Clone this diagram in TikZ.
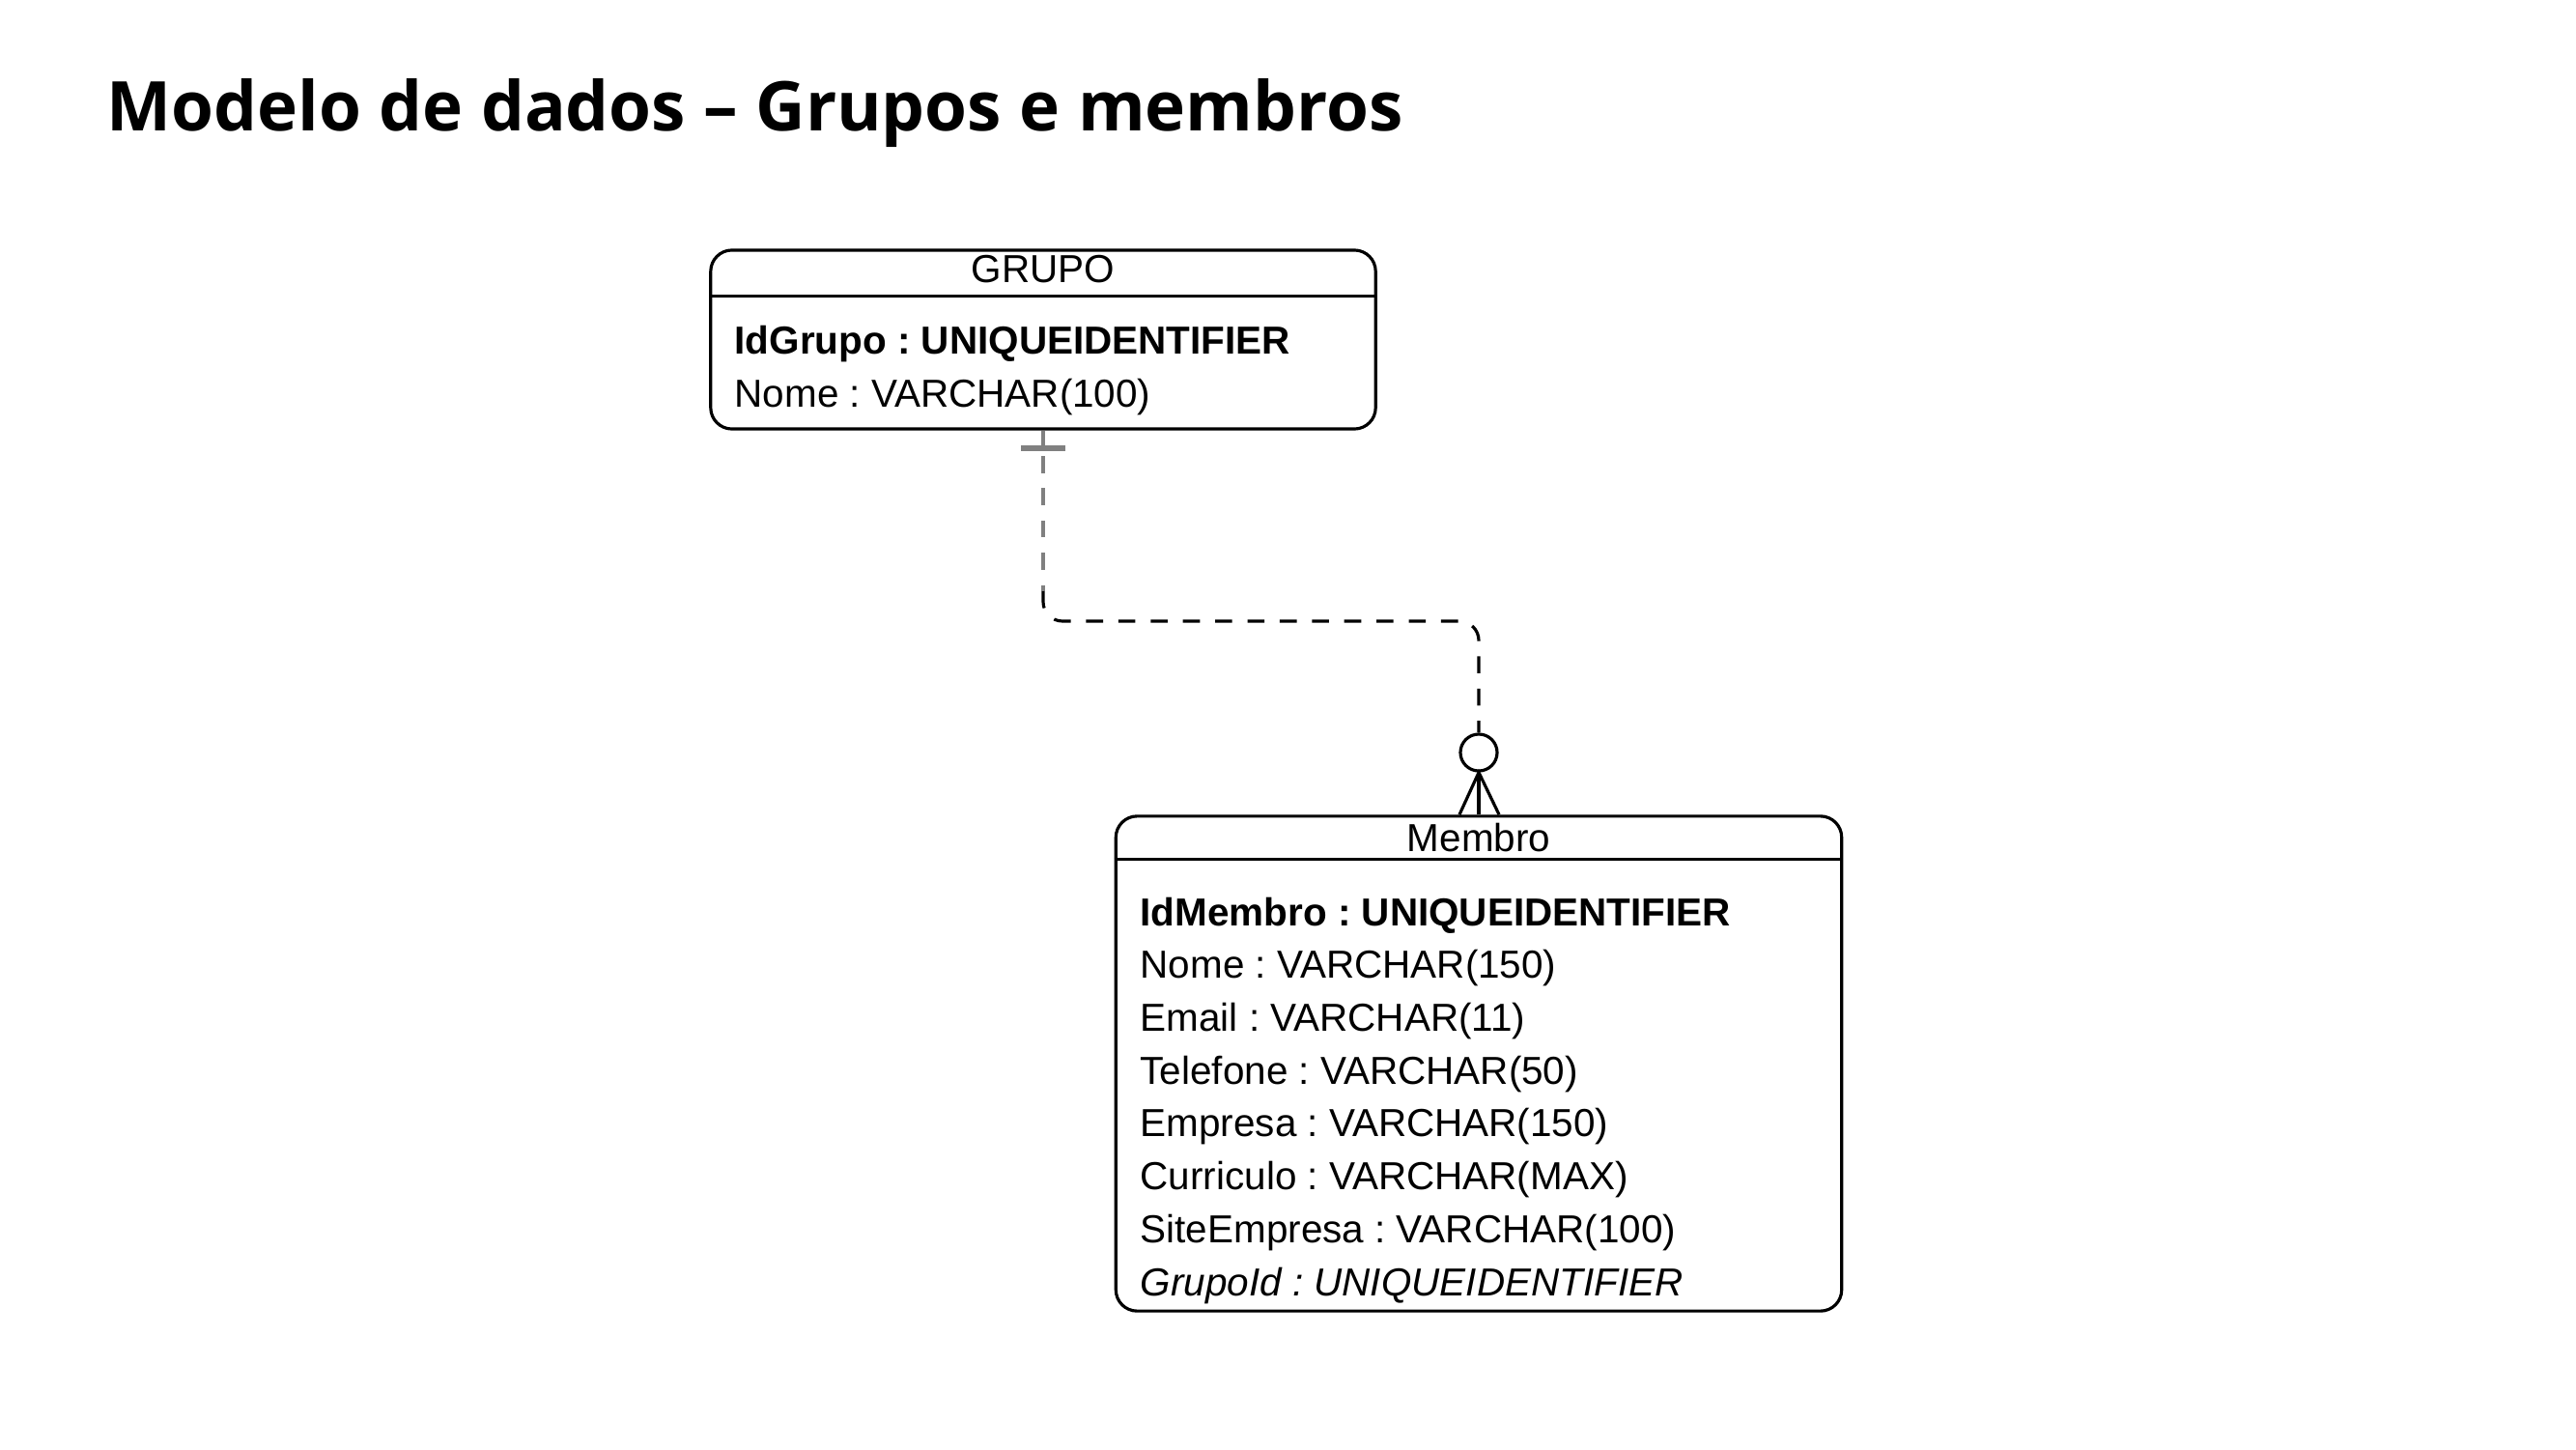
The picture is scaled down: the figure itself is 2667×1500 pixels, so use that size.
\documentclass[tikz,border=0pt]{standalone}
\usepackage{fontspec}
\setmainfont{Liberation Sans}
\newfontfamily\titlefont{Open Sans}
\usetikzlibrary{positioning}
\newcommand\attrfont{\fontsize{11.5}{13}\selectfont}
\frenchspacing

\begin{document}
\begin{tikzpicture}[x=0.01cm,y=-0.01cm,
                    entity/.style={draw,rounded corners=0.22cm,line width=0.9pt,inner sep=0pt},
                    attr/.style={anchor=base west,inner sep=0pt,font=\attrfont},
                    head/.style={inner sep=0pt,font=\attrfont},
                    rel/.style={dash pattern=on 5pt off 4.5pt,line width=0.9pt}]
\useasboundingbox (0,0) rectangle (2667,1500);

\node[anchor=base west,inner sep=0pt,font=\titlefont\bfseries\fontsize{20.2}{24}\selectfont] (Title) at (110,136) {Modelo de dados – Grupos e membros};

\node[entity,minimum width=6.88cm,minimum height=1.85cm] (Grupo) at (1080,351.5) {};
\draw[line width=0.9pt] ([yshift=-0.49cm]Grupo.north west) -- ([yshift=-0.49cm]Grupo.north east);
\node[head] (GrupoName) at (1080,279) {GRUPO};
\node[attr,font=\attrfont\bfseries] (IdGrupo) at (760,366) {IdGrupo : UNIQUEIDENTIFIER};
\node[attr] (NomeGrupo) at (760,421) {Nome : VARCHAR(100)};

\node[entity,minimum width=7.51cm,minimum height=5.12cm] (Membro) at (1531,1101) {};
\draw[line width=0.9pt] ([yshift=-0.46cm]Membro.north west) -- ([yshift=-0.46cm]Membro.north east);
\node[head] (MembroName) at (1531,867) {Membro};
\node[attr,font=\attrfont\bfseries] (m0) at (1180,958) {IdMembro : UNIQUEIDENTIFIER};
\foreach \i/\txt in {1/{Nome : VARCHAR(150)},2/{Email : VARCHAR(11)},3/{Telefone : VARCHAR(50)},
                     4/{Empresa : VARCHAR(150)},5/{Curriculo : VARCHAR(MAX)},6/{SiteEmpresa : VARCHAR(100)}}
   \node[attr] (m\i) at (1180,{958+54.7*\i}) {\txt};
\node[attr,font=\attrfont\itshape] (m7) at (1180,1341) {GrupoId : UNIQUEIDENTIFIER};

\coordinate (tick) at (1080,464);
\coordinate (bend) at (1080,643);
\coordinate (split) at (1080,612);
\node[circle,draw,line width=0.9pt,minimum size=0.38cm,inner sep=0pt] (zero) at (1531,779) {};

\draw[gray,line width=0.9pt] (Grupo.south) -- (tick);
\draw[gray,line width=1.6pt] ([xshift=-0.23cm]tick) -- ([xshift=0.23cm]tick);
\draw[rel,gray] ([yshift=-0.08cm]tick) -- (split);
\draw[rel,rounded corners=0.2cm] (split) -- (bend) -- (bend -| zero) -- (zero.north);

\draw[line width=0.9pt] ([xshift=-0.2cm]Membro.north) -- (zero.south) -- ([xshift=0.21cm]Membro.north);
\draw[line width=0.9pt] (zero.south) -- (Membro.north);

\end{tikzpicture}
\end{document}
